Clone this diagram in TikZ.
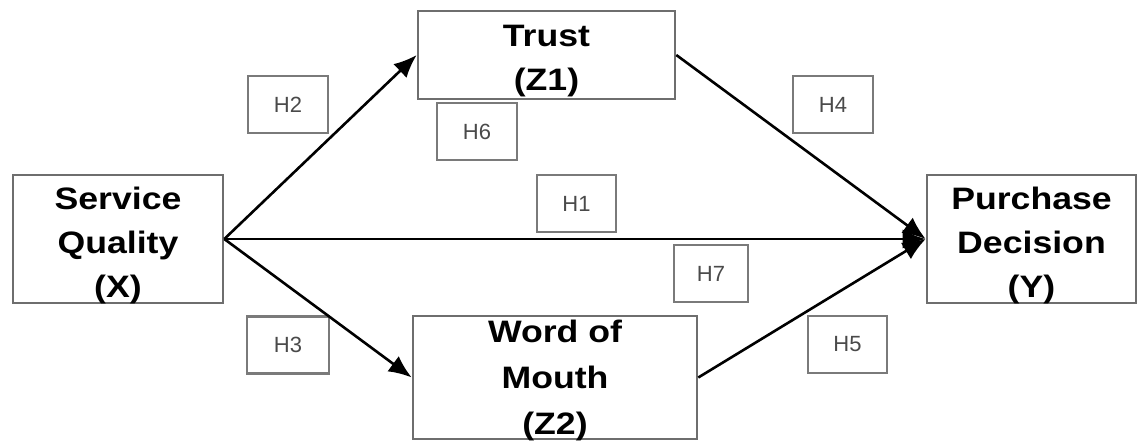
\documentclass[tikz,border=0pt]{standalone}
\usepackage{fontspec}
\setmainfont{Liberation Sans}
\newfontfamily\widefont[FakeStretch=1.15]{Liberation Sans}
\usetikzlibrary{arrows.meta}
\definecolor{boxgray}{HTML}{6E6E6E}
\definecolor{hgray}{HTML}{7A7A7A}
\definecolor{htext}{HTML}{4A4A4A}
\begin{document}
\begin{tikzpicture}[x=1pt,y=-1pt,
  var/.style={draw=boxgray, line width=2.6pt, fill=white, inner sep=0pt},
  vartext/.style={align=center, inner sep=0pt,
    font=\widefont\bfseries\fontsize{31}{44}\selectfont},
  hyp/.style={draw=hgray, line width=2.6pt, fill=white, minimum width=80pt, minimum height=57pt,
    font=\fontsize{22}{22}\selectfont, text=htext, inner sep=0pt},
  conn/.style={line width=2.6pt, draw=black, -{Latex[length=23pt,width=19pt]}}]
\useasboundingbox[fill=white] (0,0) rectangle (1138,441);

\node[var, minimum width=210pt, minimum height=128pt] (sq) at (118,239) {};
\node[var, minimum width=257pt, minimum height=88pt] (trust) at (546.5,55) {};
\node[var, minimum width=284pt, minimum height=123pt] (wom) at (555,377.5) {};
\node[var, minimum width=209pt, minimum height=128pt] (pd) at (1031.5,239) {};

\node[vartext] (sqt) at (118,245) {Service\\Quality\\(X)};
\node[vartext] (trustt) at (546.5,61) {Trust\\(Z1)};
\node[vartext, font=\widefont\bfseries\fontsize{31}{46}\selectfont] (womt) at (555,380) {Word of\\Mouth\\(Z2)};
\node[vartext] (pdt) at (1031.5,245) {Purchase\\Decision\\(Y)};

\node[hyp] (h2) at (288,104.5) {H2};
\node[hyp] (h6) at (477,131.5) {H6};
\node[hyp] (h4) at (833,104.5) {H4};
\node[hyp, minimum width=79pt] (h1) at (576.5,203.5) {H1};
\node[hyp, minimum width=74pt] (h7) at (711,273.5) {H7};
\node[hyp, minimum width=82pt] (h3) at (288,345) {H3};
\node[hyp, minimum width=79pt] (h5) at (847.5,344.5) {H5};

\draw[conn] (sq.east) -- (trust.west);
\draw[conn] (sq.east) -- (wom.west);
\draw[conn] (sq.east) -- (pd.west);
\draw[conn] (trust.east) -- (pd.west);
\draw[conn] (wom.east) -- (pd.west);
\end{tikzpicture}
\end{document}
